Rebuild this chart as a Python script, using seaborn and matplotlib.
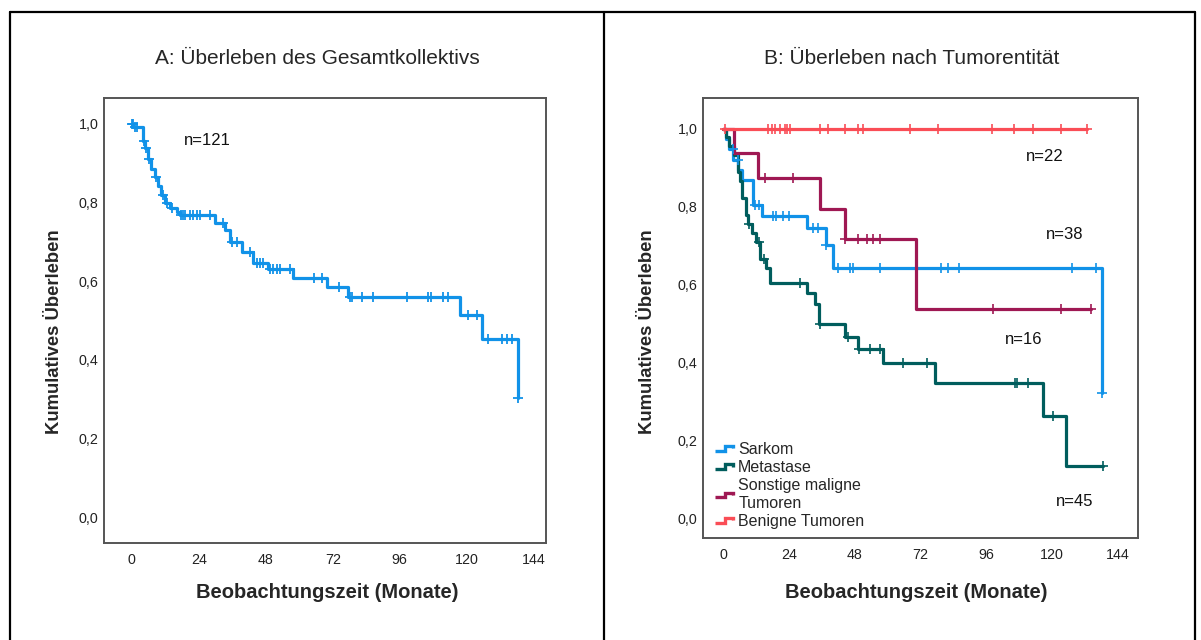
import numpy as np
import pandas as pd
import matplotlib
matplotlib.use("Agg")
import matplotlib.pyplot as plt
from matplotlib.lines import Line2D
from matplotlib.legend_handler import HandlerBase
import seaborn as sns

# ---------------- data ----------------
# Panel A: overall Kaplan-Meier (n=121): step times (months) and survival after each step
a_times = [0, 0.5, 4.0, 4.7, 5.8, 7.0, 8.2, 9.4, 10.6, 11.8, 13.6, 16.0, 17.2, 29.7, 33.3,
           35.1, 39.3, 43.5, 48.9, 57.8, 69.8, 77.5, 117.6, 125.3, 138.5]
a_surv = [1.0, 0.992, 0.957, 0.940, 0.910, 0.886, 0.865, 0.843, 0.818, 0.800, 0.787, 0.775,
          0.768, 0.747, 0.730, 0.700, 0.675, 0.645, 0.630, 0.607, 0.586, 0.561, 0.514, 0.452, 0.302]
a_cens = [0, 0.3, 1.1, 2.0, 4.5, 5.2, 6.3, 8.6, 11.2, 12.5, 14.5, 17.6, 18.4, 19.2, 20.8, 21.9,
          23.2, 24.4, 28.0, 32.7, 36.0, 37.6, 42.3, 44.7, 45.9, 47.0, 49.5, 50.5, 52.0, 53.0,
          56.6, 65.2, 68.3, 74.3, 78.1, 78.7, 82.3, 86.3, 98.5, 106.2, 107.1, 111.6, 113.4,
          120.5, 123.5, 127.5, 132.5, 134.3, 136.1, 138.5]

# Panel B: by tumour entity
groups = ["Sarkom", "Metastase", "Sonstige maligne\nTumoren", "Benigne Tumoren"]
group_n = ["n=38", "n=45", "n=16", "n=22"]

sark_times = [0, 1.0, 2.0, 3.8, 5.6, 6.8, 11.0, 14.1, 30.5, 37.5, 40.2, 138.0]
sark_surv = [1.0, 0.974, 0.947, 0.921, 0.895, 0.868, 0.805, 0.777, 0.745, 0.703, 0.643, 0.324]
sark_cens = [3.7, 5.5, 11.5, 13.0, 18.3, 19.3, 22.0, 24.2, 32.8, 34.6, 37.6, 42.0, 46.3,
             47.3, 57.2, 79.4, 82.1, 86.1, 127.1, 136.0, 138.0]

meta_times = [0, 1.0, 2.0, 4.0, 5.5, 6.2, 7.0, 8.5, 9.0, 10.7, 12.0, 13.5, 15.5, 17.0,
              30.5, 33.5, 35.1, 44.5, 49.3, 58.2, 77.3, 116.8, 125.0, 138.4]
meta_surv = [1.0, 0.978, 0.956, 0.933, 0.889, 0.867, 0.822, 0.778, 0.756, 0.733, 0.711,
             0.667, 0.644, 0.606, 0.579, 0.551, 0.500, 0.467, 0.436, 0.399, 0.348, 0.264,
             0.136, 0.136]
meta_cens = [9.6, 13.2, 15.0, 28.1, 35.5, 45.5, 49.5, 53.5, 57.2, 65.5, 74.3, 106.5, 107.1,
             111.1, 120.2, 138.4]

sons_times = [0, 4.1, 12.6, 35.4, 44.5, 70.4, 134.0]
sons_surv = [1.0, 0.9375, 0.875, 0.795, 0.717, 0.538, 0.538]
sons_cens = [15.3, 25.4, 44.5, 49.3, 52.4, 54.8, 57.2, 98.3, 123.1, 134.0]

beni_times = [0, 132.6]
beni_surv = [1.0, 1.0]
beni_cens = [0.7, 16.5, 17.8, 19.0, 20.8, 22.6, 23.5, 24.4, 35.4, 38.4, 44.5, 49.3, 51.1,
             68.3, 78.3, 98.2, 106.2, 113.1, 123.1, 132.6]

x_ticks = [0, 24, 48, 72, 96, 120, 144]
y_ticks = [0.0, 0.2, 0.4, 0.6, 0.8, 1.0]
y_ticklabels = ["0,0", "0,2", "0,4", "0,6", "0,8", "1,0"]

colors = ["#1192E8", "#005D5D", "#9F1853", "#FA4D56"]

# ---------------- style ----------------
sns.set_theme(style="white")
plt.rcParams["font.family"] = ["Liberation Sans", "DejaVu Sans"]

W, H = 1201, 640
fig = plt.figure(figsize=(W / 100, H / 100), dpi=100)


def fx(px):
    return px / W


def fy(py):
    return 1 - py / H


def step_df(times, surv, name):
    return pd.DataFrame({"t": times, "S": surv, "g": name})


def cens_df(times_c, times, surv, name):
    idx = np.searchsorted(np.asarray(times), np.asarray(times_c), side="right") - 1
    return pd.DataFrame({"t": times_c, "S": np.asarray(surv)[idx], "g": name})


def style_axes(ax, xlim, ylim):
    ax.set_xlim(*xlim)
    ax.set_ylim(*ylim)
    ax.set_xticks(x_ticks)
    ax.set_xticklabels([str(v) for v in x_ticks])
    ax.set_yticks(y_ticks)
    ax.set_yticklabels(y_ticklabels)
    ax.tick_params(axis="both", length=0, labelsize=10.3, colors="#222222")
    ax.tick_params(axis="x", pad=7)
    ax.tick_params(axis="y", pad=4)
    for s in ax.spines.values():
        s.set_color("#555555")
        s.set_linewidth(1.4)
    ax.set_xlabel("")
    ax.set_ylabel("")


LW = 2.3
MS = 60

# ---------------- panel A ----------------
axA = fig.add_axes([fx(104), fy(543), fx(546) - fx(104), fy(98) - fy(543)])
dA = step_df(a_times, a_surv, "Gesamt")
cA = cens_df(a_cens, a_times, a_surv, "Gesamt")
sns.lineplot(data=dA, x="t", y="S", ax=axA, color=colors[0], lw=LW,
             drawstyle="steps-post", estimator=None, sort=False, legend=False)
sns.scatterplot(data=cA, x="t", y="S", ax=axA, color=colors[0], marker="+", s=MS,
                linewidth=1.3, legend=False, zorder=5)
style_axes(axA, (-10, 148.4), (-0.066, 1.066))
axA.text(26.9, 0.957, "n=121", fontsize=12, ha="center", va="center", color="#111111")

# ---------------- panel B ----------------
axB = fig.add_axes([fx(703), fy(538), fx(1138) - fx(703), fy(98) - fy(538)])
curves = [
    (sark_times, sark_surv, sark_cens),
    (meta_times, meta_surv, meta_cens),
    (sons_times, sons_surv, sons_cens),
    (beni_times, beni_surv, beni_cens),
]
for k in [2, 1, 0, 3]:
    t, s, c = curves[k]
    d = step_df(t, s, groups[k])
    cd = cens_df(c, t, s, groups[k])
    sns.lineplot(data=d, x="t", y="S", ax=axB, color=colors[k], lw=LW,
                 drawstyle="steps-post", estimator=None, sort=False, legend=False,
                 zorder=2 + k * 0.1 if k != 3 else 4)
    sns.scatterplot(data=cd, x="t", y="S", ax=axB, color=colors[k], marker="+", s=MS,
                    linewidth=1.2, legend=False, zorder=5)
style_axes(axB, (-7.3, 151.3), (-0.049, 1.079))

n_pos = {"n=22": (117.4, 0.928), "n=38": (124.7, 0.728), "n=16": (109.5, 0.459), "n=45": (128.2, 0.044)}
for lab in group_n:
    xx, yy = n_pos[lab]
    axB.text(xx, yy, lab, fontsize=12, ha="center", va="center", color="#111111")


class StepHandler(HandlerBase):
    def create_artists(self, legend, orig_handle, xdescent, ydescent, width, height,
                       fontsize, trans):
        xs = np.array([0.0, 0.5, 0.5, 0.95, 0.95]) * width - xdescent
        ys = np.array([0.3, 0.3, 0.72, 0.72, 0.5]) * height - ydescent
        ln = Line2D(xs, ys, color=orig_handle.get_color(), lw=2.4,
                    solid_joinstyle="miter", solid_capstyle="butt")
        ln.set_transform(trans)
        return [ln]


leg_handles = [Line2D([0], [0], color=colors[k], lw=LW) for k in range(4)]
axB.legend(leg_handles, groups, loc="lower left", bbox_to_anchor=(0.002, -0.005),
           frameon=False, fontsize=11.5, handlelength=1.2, handletextpad=0.25,
           labelspacing=0.2, borderpad=0.2,
           handler_map={Line2D: StepHandler()})

# ---------------- texts ----------------
fig.text(fx(317), fy(58), "A: Überleben des Gesamtkollektivs", fontsize=15, ha="center", va="center")
fig.text(fx(912), fy(58), "B: Überleben nach Tumorentität", fontsize=15, ha="center", va="center")
for xc in (55, 648):
    fig.text(fx(xc), fy(332), "Kumulatives Überleben", fontsize=13.3, fontweight="bold",
             rotation=90, ha="center", va="center")
for xc in (327, 916):
    fig.text(fx(xc), fy(592), "Beobachtungszeit (Monate)", fontsize=14.5, fontweight="bold",
             ha="center", va="center")

# ---------------- outer table frame ----------------
frame_kw = dict(color="black", lw=1.6, transform=fig.transFigure, clip_on=False)
fig.add_artist(Line2D([fx(10), fx(1195)], [fy(12), fy(12)], **frame_kw))
fig.add_artist(Line2D([fx(10), fx(10)], [fy(12), 0], **frame_kw))
fig.add_artist(Line2D([fx(604), fx(604)], [fy(12), 0], **frame_kw))
fig.add_artist(Line2D([fx(1195), fx(1195)], [fy(12), 0], **frame_kw))

fig.savefig("out.png", dpi=100, facecolor="white")
